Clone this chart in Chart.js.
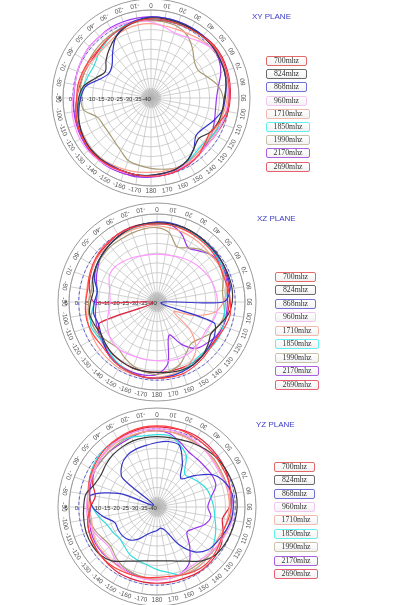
<!DOCTYPE html>
<html><head><meta charset="utf-8">
<script src="https://cdn.jsdelivr.net/npm/chart.js@4.4.1/dist/chart.umd.min.js"></script>
<style>
html,body{margin:0;padding:0;background:#fff;width:397px;height:605px;overflow:hidden;position:relative;font-family:"Liberation Sans",Arial,sans-serif;}
canvas{position:absolute;}
.title{position:absolute;color:#3b3bc8;font-size:8px;line-height:8px;white-space:nowrap;}
.lg{position:absolute;height:8px;border:1.5px solid;border-radius:2px;font-family:"Liberation Serif","Times New Roman",serif;font-size:7.8px;line-height:8px;text-align:center;color:#333;background:linear-gradient(#fff,#f2f2f2);box-sizing:content-box;white-space:nowrap;}
</style></head><body>
<script>
// ---- data ----
const angleLabels = ['0','10','20','30','40','50','60','70','80','90','100','110','120','130','140','150','160','170','180','-170','-160','-150','-140','-130','-120','-110','-100','-90','-80','-70','-60','-50','-40','-30','-20','-10'];
const radialTicks = [5,0,-5,-10,-15,-20,-25,-30,-35,-40];
const seriesNames = ['700mhz','824mhz','868mhz','960mhz','1710mhz','1850mhz','1990mhz','2170mhz','2690mhz'];
const planeTitles = ['XY PLANE','XZ PLANE','YZ PLANE'];

const xy_700  = [0.5,0.5,0.3,0.5,1,1.5, 1.5,1,0.5,0,-0.5,-3, -5,-4,-2,-1,-0.5,0, 0,0,0,0.5,1,1, 0.5,0,-1,-2,-2,-2.5, -3,-3.5,-3,-2,-1,0];
const xy_824  = [1,1,1,1,1,1, 0.5,0,-1,-2.5,-3,-3.5, -5,-8,-6,-3,-1.5,-1, -0.5,0,0,0.5,0.5,0.5, 0,-1,-2,-3,-5,-10, -13,-10,-7,-4,-1.5,0];
const xy_868  = [1.5,1.5,1.5,1.5,1.5,1, 0.5,0,-1,-2,-3,-6, -9,-10,-6,-3,-1.5,-1, -0.5,0,0,0,0.5,0.5, 0,-1,-2.5,-4,-6,-12, -15,-14,-9.5,-4,-1,0.5];
const xy_960  = [-1,-3,-4.5,-4,-2,0, 1,1,0.5,-0.5,-1,-1.5, -2,-2.5,-2,-1.5,-1,-0.5, 0,0,0.5,1,1.5,2, 2,1.5,1,0,-0.5,0, 0.5,1,1,1,0.5,0];
const xy_1710 = [-2,-2.5,-2.5,-2,-1,0, 0.5,0.5,0,-1,-2,-3, -4,-4,-3,-2,-2,-2, -2,-1.5,-1,-0.5,0,0, -0.5,-1,-1.5,-2,-2.5,-3, -4,-5,-4.5,-3.5,-2.5,-2];
const xy_1850 = [0.5,0.5,0.5,0.5,1,1, 1,1,0.5,0,-0.5,-1.5, -3,-4.5,-4,-2.5,-1,-0.5, -0.5,0,0,0,0,0, -0.5,-1,-2,-3.5,-5,-6, -6.5,-5,-3.5,-2,-0.5,0.5];
const xy_1990 = [-0.5,-0.5,-1,-3,-7,-11, -12,-9,-5,-3,-2.5,-2.5, -3,-3.5,-3,-2.5,-2,-3, -4,-5,-6,-9,-11,-12, -12,-11,-5,-4,-3.5,-3.5, -3,-2.5,-2,-1.5,-1,-0.5];
const xy_2170 = [1.5,1.5,1.5,1.5,1.5,1, 0,-2,-5,-6.5,-6.5,-5.5, -4,-3,-2,-1,-0.5,0, 0.5,1,1,1.5,1.5,1.5, 1,0.5,0,-0.5,-0.5,0, 0.5,1,1,1.5,1.5,1.5];
const xy_2690 = [0,0,0.5,1,1.5,2, 2,1.5,1,0.5,0,-1, -2,-2.5,-2,-1,-0.5,0, 0,0.5,1,1,1,1, 0.5,0,-1,-2,-3,-3.5, -4,-4,-3,-2,-1,0];

const xz_700  = [0,0,-0.5,-1,-1.5,-2, -3,-3.5,-3,-2.5,-2,-3, -4,-4,-3,-2,-1,-1, -1,-1,-1.5,-2,-3,-4, -3.5,-3,-3,-3.5,-4,-3, -2,-1,-0.5,0,0,0];
const xz_824  = [0.5,0.5,0.5,0,-0.5,-0.5, -1,-1,-1,-1.5,-3,-6, -8,-6,-4,-3,-3,-3.5, -4,-4,-4,-4.5,-5,-6, -7,-6,-5,-6,-7,-5, -4,-3,-2,-1,0,0.5];
const xz_868  = [1,1,0.5,0,-0.5,-1, -1,-1.5,-2,-6,-38,-9, -6,-5,-4,-3,-2,-1.5, -1,-1,-1.5,-2,-3,-5, -7,-8,-7,-8,-9,-6, -4,-3,-2,-1,0,0.5];
const xz_960  = [-15.5,-15.5,-15,-14,-13,-12, -11,-10,-9.5,-9,-9,-10, -11,-10.5,-9.5,-9,-9,-9.5, -10,-10,-10,-9.5,-9,-9.5, -11,-13,-15,-16,-15.5,-14, -12,-12,-13,-14,-15,-15.5];
const xz_1710 = [-1,-1.5,-2,-2.5,-3,-3.5, -3,-3,-4,-6,-10,-20, -30,-18,-9,-5,-3,-2, -1.5,-1,-1,-1,-1.5,-2, -2.5,-3,-3.5,-3.5,-3.5,-3, -2.5,-2,-2,-1.5,-1,-1];
const xz_1850 = [0,0,0,-0.5,-1,-1.5, -2,-3,-4,-5,-5,-4, -3.5,-4,-5,-4,-2.5,-1.5, -1,-1,-1.5,-2.5,-4,-6, -5,-4,-6,-8,-9,-6, -4,-3,-2,-1,-0.5,0];
const xz_1990 = [-2,-4,-10,-8,-5,-3.5, -3,-4,-6,-6,-5,-6, -8,-11,-12.5,-10,-6,-4, -3,-3.5,-5,-7,-9,-8, -6,-5,-4.5,-5,-6,-5, -4,-3.5,-3,-3,-2.5,-2];
const xz_2170 = [0,0,-3,-8,-6,-3, -2,-2.5,-3.5,-4,-4,-4, -5,-7,-9,-15,-22,-8, -3,-2,-2,-2.5,-3.5,-5, -6,-7,-8,-9,-9,-7, -5,-3,-2,-1,-0.5,0];
const xz_2690 = [0.5,0.5,0,-0.5,-1,-1.5, -2,-2,-2.5,-3,-3.5,-4, -4.5,-4.5,-4,-4,-4,-4, -4,-4,-4,-4.5,-5,-5.5, -6,-9,-38,-8,-5,-3.5, -2.5,-1.5,-1,0,0.5,0.5];

const yz_700  = [1.5,1.5,1,0.5,0,-0.5, -1,-1,-1.5,-2,-3,-4, -3,-2,-1.5,-2,-3,-4, -4,-3.5,-3,-2.5,-2,-2, -2.5,-3,-4,-6,-5,-3, -2,-1,0,0.5,1,1.5];
const yz_824  = [-4,-4,-3.5,-2.5,-1.5,-0.5, 0,0.5,1,1,0.5,0, -0.5,-1.5,-4,-8,-10.6,-12, -12.4,-12,-10.6,-8,-4,-2, -1.5,-1.5,-2,-2.5,-3,-6, -7,-6,-5,-4.5,-4,-4];
const yz_868  = [-7,-6,-6.5,-14,-21,-15, -7,-3,-1,-1,-1.5,-3, -4.5,-6,-10,-18,-27,-29, -28,-27,-25,-21,-18,-17, -17,-17,-12,-7,-5.5,-20, -38,-17,-12,-9.5,-8.5,-8];
const yz_960  = [0,0,-0.5,-1,-2,-3, -3.5,-3,-2,-1,-1,-2, -3,-4,-5,-5,-4,-3, -2.5,-2.5,-3,-4,-6,-8, -7,-5,-4,-4,-4,-3.5, -3,-2,-1,-0.5,0,0];
const yz_1710 = [-1,-1,-1.5,-2,-2,-2.5, -3,-3,-3,-3,-3.5,-4, -5,-4,-3,-3,-3,-3, -3,-3,-3,-3.5,-4,-4, -4,-5,-6,-5,-4,-3, -2.5,-2,-1.5,-1,-1,-1];
const yz_1850 = [-3,-3,-6,-10,-18,-17, -15,-13,-12,-11,-10,-8, -6,-4,-3,-2.5,-3,-6, -8,-10,-11,-12,-14,-15, -14,-13,-10,-7,-5,-3, -1.5,-0.5,0,-1,-2,-3];
const yz_1990 = [-1,-1,-1,-1.5,-2,-2, -2.5,-2.5,-2,-2,-2,-2.5, -3,-3.5,-4,-4,-3.5,-3, -3,-3.5,-4,-5,-7,-9, -8,-6,-5,-4.5,-4,-3.5, -3,-3,-2.5,-2,-1.5,-1];
const yz_2170 = [-1,-2,-5,-7.5,-8,-8, -7.5,-8,-12,-14,-12,-14, -18,-20,-14,-7,-4,-3, -3,-3,-3.5,-4,-4,-3.5, -3.5,-4,-5,-6,-5,-4, -3,-3,-2.7,-2.7,-2,-1];
const yz_2690 = [1,1,1.5,1.5,1,0.5, 0,-1,-2,-3,-6,-4, -2,-1,-0.5,-0.5,-1,-1, -1,-1,-1,-1,-1.5,-2, -2.5,-3,-4,-6,-8,-5, -3,-2,-1,0,0.5,1];

// ---- styles ----
const lineColors = ['#ff4040','#3a3a3a','#3434cc','#ff99ff','#ffa08c','#30dede','#a89a72','#9a36ee','#e0223c'];
const boxColors  = ['#e46a6a','#6a6a6a','#6e6ed8','#f2c8f2','#f2b8ac','#60f0f0','#c8c2aa','#aa60e0','#e86070'];

const planeData = [
  [xy_700,xy_824,xy_868,xy_960,xy_1710,xy_1850,xy_1990,xy_2170,xy_2690],
  [xz_700,xz_824,xz_868,xz_960,xz_1710,xz_1850,xz_1990,xz_2170,xz_2690],
  [yz_700,yz_824,yz_868,yz_960,yz_1710,yz_1850,yz_1990,yz_2170,yz_2690]
];
const layout = [
  {cx:151, cy:98,  tx:252, ty:13,  lx:266, ly:56,  ls:13.2},
  {cx:157, cy:302, tx:257, ty:215, lx:275, ly:271.7, ls:13.5},
  {cx:157, cy:507, tx:256, ty:421, lx:274, ly:461.7, ls:13.4}
];

const polarDecor = {
  id:'polarDecor',
  beforeDatasetsDraw(chart){
    const s = chart.scales.r, ctx = chart.ctx;
    const cx = s.xCenter, cy = s.yCenter, R = s.drawingArea;
    ctx.save();
    ctx.fillStyle = 'rgba(140,140,140,0.35)';
    ctx.beginPath(); ctx.arc(cx,cy,9,0,Math.PI*2); ctx.fill();
    ctx.strokeStyle = '#4d4dd9'; ctx.lineWidth = 0.9; ctx.setLineDash([3,2.5]);
    ctx.beginPath(); ctx.arc(cx,cy,s.getDistanceFromCenterForValue(0),0,Math.PI*2); ctx.stroke();
    ctx.setLineDash([]);
    ctx.strokeStyle = '#9a9a9a'; ctx.lineWidth = 1;
    ctx.beginPath(); ctx.arc(cx,cy,R,0,Math.PI*2); ctx.stroke();
    ctx.beginPath(); ctx.arc(cx,cy,R+11,0,Math.PI*2); ctx.stroke();
    // angle labels, rotated with their top toward the centre
    ctx.fillStyle = '#555'; ctx.font = '6.5px "Liberation Sans", Arial, sans-serif';
    ctx.textAlign = 'center'; ctx.textBaseline = 'middle';
    chart.data.labels.forEach((lab,i)=>{
      const p = s.getPointPosition(i, R+5.5);
      ctx.save(); ctx.translate(p.x,p.y); ctx.rotate(s.getIndexAngle(i) - Math.PI);
      ctx.fillText(lab,0,0); ctx.restore();
    });
    // radial tick labels along the -90 axis
    ctx.fillStyle = '#333'; ctx.font = '6px "Liberation Sans", Arial, sans-serif';
    radialTicks.forEach(v=>{
      const d = 4.5 + (v+40)*1.85 + Math.max(0, v+10)*0.2;
      ctx.fillText(String(v), cx - d, cy + 1.5);
    });
    ctx.restore();
  }
};

layout.forEach((L,pi)=>{
  const cv = document.createElement('canvas');
  cv.width = 220; cv.height = 220;
  cv.style.left = (L.cx-110)+'px'; cv.style.top = (L.cy-110)+'px';
  cv.style.width='220px'; cv.style.height='220px';
  document.body.appendChild(cv);
  new Chart(cv, {
    type:'radar',
    data:{
      labels: angleLabels,
      datasets: seriesNames.map((n,i)=>({
        label:n, data:planeData[pi][i], borderColor:lineColors[i], borderWidth:1.2,
        pointRadius:0, fill:false, tension:0.3
      }))
    },
    options:{
      responsive:false, animation:false, devicePixelRatio:1,
      layout:{padding:22},
      plugins:{legend:{display:false}, tooltip:{enabled:false}},
      scales:{r:{
        min:-40, max:5,
        ticks:{display:false, stepSize:5},
        grid:{circular:true, color:'#c4c4c4', lineWidth:0.8},
        angleLines:{color:'#c4c4c4', lineWidth:0.8},
        pointLabels:{display:false}
      }}
    },
    plugins:[polarDecor]
  });
  const t = document.createElement('div');
  t.className='title'; t.textContent = planeTitles[pi];
  t.style.left=L.tx+'px'; t.style.top=L.ty+'px';
  document.body.appendChild(t);
  seriesNames.forEach((n,i)=>{
    const b = document.createElement('div');
    b.className='lg'; b.textContent=n;
    b.style.borderColor = boxColors[i];
    b.style.width = (n.length>6?42:39)+'px';
    b.style.left = L.lx+'px'; b.style.top = (L.ly + i*L.ls)+'px';
    document.body.appendChild(b);
  });
});
</script>
</body></html>
